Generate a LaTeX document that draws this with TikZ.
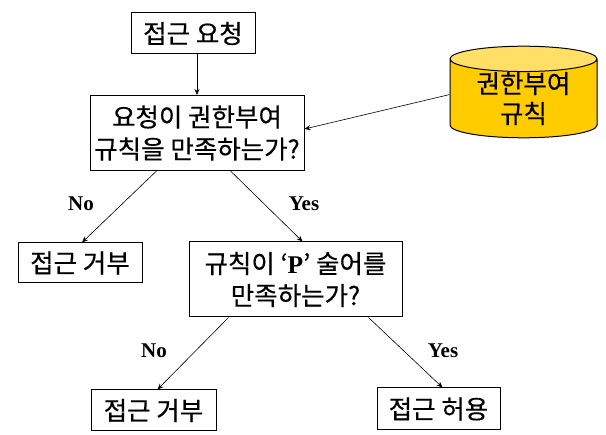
\documentclass[tikz,border=0pt]{standalone}
\usepackage{fontspec}
\setmainfont[FakeBold=0.4]{Noto Sans CJK KR}
\newfontfamily\latinbf{Liberation Serif}
\usetikzlibrary{arrows.meta,shapes.geometric}
\definecolor{dbbody}{HTML}{FFCC00}
\definecolor{dbtop}{HTML}{FFDF66}
\tikzset{
 box/.style={draw=black,line width=1pt,fill=white,align=center,font=\fontsize{25.5}{32}\selectfont,inner sep=0pt},
 conn/.style={draw=black,line width=0.6pt,-{Stealth[length=6pt,width=5pt]}},
 lab/.style={font=\fontsize{21}{24}\latinbf\bfseries,inner sep=0pt}
}
\begin{document}
\begin{tikzpicture}[x=1pt,y=-1pt]
\useasboundingbox (0,0) rectangle (606,435);
\node[box,minimum width=124pt,minimum height=41pt] (req) at (193,33.5) {접근 요청};
\node[box,minimum width=214pt,minimum height=75pt] (q1) at (197,133) {요청이 권한부여\\규칙을 만족하는가?};
\node[box,minimum width=124pt,minimum height=40pt] (deny1) at (80,263) {접근 거부};
\node[box,minimum width=213pt,minimum height=75pt] (q2) at (295.5,279.5) {규칙이 ‘{\latinbf\bfseries P}’ 술어를\\만족하는가?};
\node[box,minimum width=125pt,minimum height=41pt] (deny2) at (153.5,410.5) {접근 거부};
\node[box,minimum width=123pt,minimum height=42pt] (ok) at (438.5,409) {접근 허용};
\node[cylinder,shape border rotate=90,draw=black,line width=1pt,cylinder uses custom fill,cylinder body fill=dbbody,cylinder end fill=dbtop,minimum width=147pt,minimum height=90pt,aspect=0.27,align=center,font=\fontsize{25.5}{30}\selectfont,inner sep=0pt,anchor=shape center] (db) at (523.5,92) {권한부여\\규칙};
\draw[conn] (req.south -| q1.north) -- (q1.north);
\draw[conn] ([yshift=4pt]db.west) -- ([yshift=4pt]q1.east);
\draw[conn] ([xshift=67pt]q1.south west) -- ([xshift=2pt]deny1.north);
\draw[conn] ([xshift=-74pt]q1.south east) -- ([xshift=7pt]q2.north);
\draw[conn] ([xshift=40pt]q2.south west) -- ([xshift=4pt]deny2.north);
\draw[conn] ([xshift=-34pt]q2.south east) -- ([xshift=4pt]ok.north);
\node[lab] (n1) at (81,204) {No};
\node[lab] (y1) at (304,204) {Yes};
\node[lab] (n2) at (154,351) {No};
\node[lab] (y2) at (443,351) {Yes};
\end{tikzpicture}
\end{document}
